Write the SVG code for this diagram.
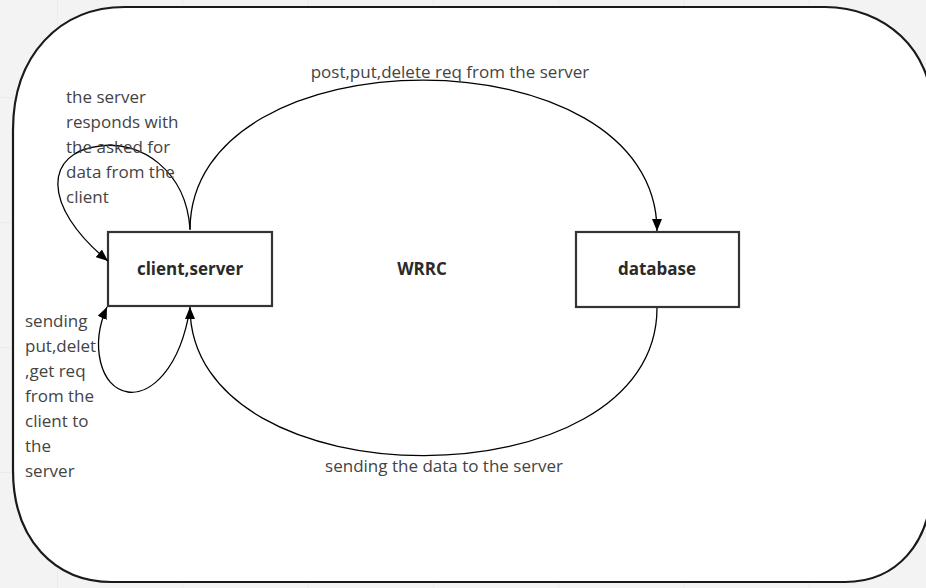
<svg xmlns="http://www.w3.org/2000/svg" width="926" height="588" viewBox="0 0 926 588">
<defs>
<pattern id="grid" x="57" y="-28" width="125.3" height="125" patternUnits="userSpaceOnUse">
<path d="M0,0 V125 M0,0 H125.3" fill="none" stroke="#e4e4e4" stroke-width="1"/>
</pattern>
<marker id="arr" markerWidth="12" markerHeight="10" refX="12" refY="5" orient="auto" markerUnits="userSpaceOnUse">
<path d="M0,0 L12,5 L0,10 Z" fill="#000"/>
</marker>
</defs>
<style>
.lbl{font-family:"Open Sans","Liberation Sans",sans-serif;font-size:17px;fill:#444}
.node rect{fill:#fff;stroke:#333;stroke-width:2.2}
.node text,.title{font-family:"Open Sans","Liberation Sans",sans-serif;font-size:17px;font-weight:bold;fill:#2a2a2a;text-anchor:middle}
.conn path{fill:none;stroke:#000;stroke-width:1.3}
</style>
<rect width="926" height="588" fill="#f3f3f3"/>
<rect width="926" height="588" fill="url(#grid)"/>
<g id="container">
<path d="M125,7 L825,7 C885,7 932,50 932,110 L932,480 C932,545 895,582 845,582 L112,582 C55,582 13,540 13,470 L13,130 C13,55 60,7 125,7 Z" fill="#fff" stroke="#1a1a1a" stroke-width="2.2"/>
</g>
<text class="title" x="422" y="275">WRRC</text>
<g id="client-server" class="node">
<rect x="108" y="232" width="164" height="74"/>
<text x="190" y="275">client,server</text>
</g>
<g id="database" class="node">
<rect x="576" y="232" width="163" height="75"/>
<text x="657" y="275">database</text>
</g>
<g id="connectors" class="conn">
<path d="M190,230 C190,30 657,30 657,231" marker-end="url(#arr)"/>
<path d="M657,308 C657,505 190,505 190,307" marker-end="url(#arr)"/>
<path d="M190,229 C186,170 140,140 100,146 C45,152 40,205 108,261" marker-end="url(#arr)"/>
<path d="M190,308 C180,370 150,395 128,392 C100,388 90,345 107,307" marker-end="url(#arr)"/>
</g>
<g id="labels">
<text class="lbl" x="450" y="78" text-anchor="middle">post,put,delete req from the server</text>
<text class="lbl" x="444" y="472" text-anchor="middle">sending the data to the server</text>
<text class="lbl" x="66" y="103">the server</text>
<text class="lbl" x="66" y="128">responds with</text>
<text class="lbl" x="66" y="153">the asked for</text>
<text class="lbl" x="66" y="178">data from the</text>
<text class="lbl" x="66" y="203">client</text>
<text class="lbl" x="25" y="327">sending</text>
<text class="lbl" x="25" y="352">put,delet</text>
<text class="lbl" x="25" y="377">,get req</text>
<text class="lbl" x="25" y="402">from the</text>
<text class="lbl" x="25" y="427">client to</text>
<text class="lbl" x="25" y="452">the</text>
<text class="lbl" x="25" y="477">server</text>
</g>
</svg>
